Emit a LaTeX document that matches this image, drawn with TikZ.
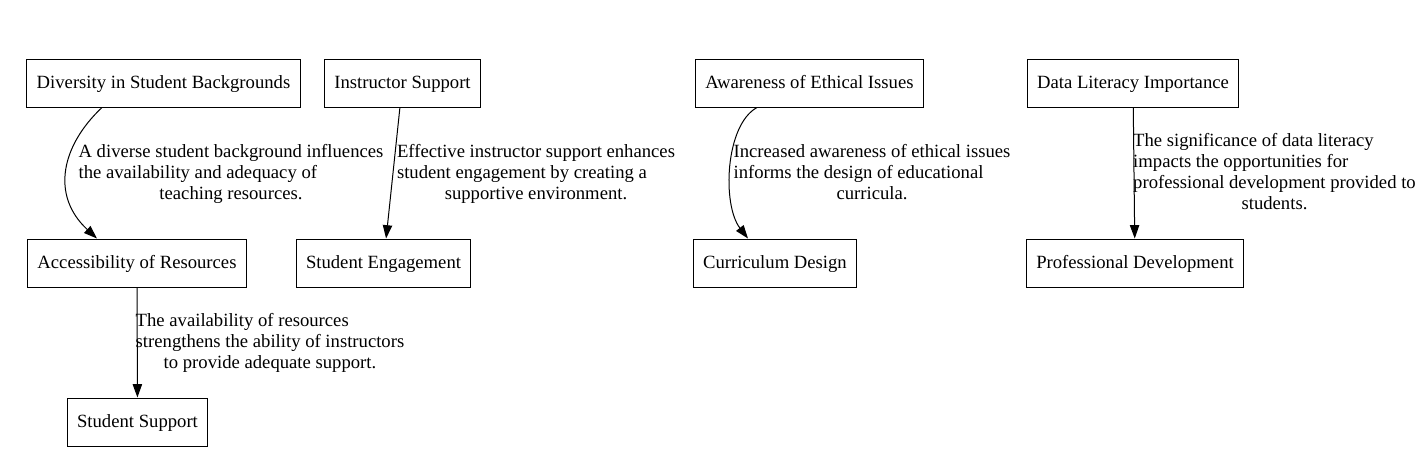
\documentclass[tikz,border=0pt]{standalone}
\usepackage{fontspec}
\setmainfont{Liberation Serif}
\usetikzlibrary{arrows.meta, calc}

% edge label: left-aligned lines, last line centred
\newcommand{\edgetext}[2]{\begin{tabular}{@{}l@{}}#1\\\multicolumn{1}{@{}c@{}}{#2}\end{tabular}}

\begin{document}
\begin{tikzpicture}[
    x=0.75pt, y=-0.75pt,
    concept/.style={rectangle, draw, line width=0.75pt, minimum height=36pt, inner xsep=7.4pt, text height=11pt, text depth=3pt, font=\fontsize{14}{16}\selectfont},
    link/.style={draw, line width=0.75pt, -{Triangle[length=10pt, width=7pt]}},
    note/.style={inner sep=0pt, font=\fontsize{14}{15.75}\selectfont},
]
\useasboundingbox (0,0) rectangle (1422,472);

% Row 1: causes
\node[concept] (diversity) at (163.5, 83) {Diversity in Student Backgrounds};
\node[concept] (instructor) at (402.5, 83) {Instructor Support};
\node[concept] (ethics) at (809.5, 83) {Awareness of Ethical Issues};
\node[concept] (literacy) at (1133, 83) {Data Literacy Importance};

% Row 2: effects
\node[concept] (access) at (137, 263) {Accessibility of Resources};
\node[concept] (engage) at (383.5, 263) {Student Engagement};
\node[concept] (curric) at (775, 263) {Curriculum Design};
\node[concept] (profdev) at (1135, 263) {Professional Development};

% Row 3
\node[concept] (support) at (137.5, 422) {Student Support};

% Edge labels
\node[note] (ldiv) at (231, 174) {\edgetext{A diverse student background influences\\the availability and adequacy of}{teaching resources.}};
\node[note] (lins) at (536, 174) {\edgetext{Effective instructor support enhances\\student engagement by creating a}{supportive environment.}};
\node[note] (leth) at (872, 174) {\edgetext{Increased awareness of ethical issues\\informs the design of educational}{curricula.}};
\node[note] (llit) at (1274.5, 174) {\edgetext{The significance of data literacy\\impacts the opportunities for\\professional development provided to}{students.}};
\node[note] (lacc) at (270, 343) {\edgetext{The availability of resources\\strengthens the ability of instructors}{to provide adequate support.}};

% Edges
\draw[link] ($(diversity.south)+(-61.5,0)$) .. controls (62,145) and (50,195) .. ($(access.north)+(-40,0)$);
\draw[link] (instructor) -- (engage);
\draw[link] ($(ethics.south)+(-52.5,0)$) .. controls (725,125) and (722,205) .. ($(curric.north)+(-27,0)$);
\draw[link] (literacy) -- (profdev);
\draw[link] (access) -- (support);

\end{tikzpicture}
\end{document}
